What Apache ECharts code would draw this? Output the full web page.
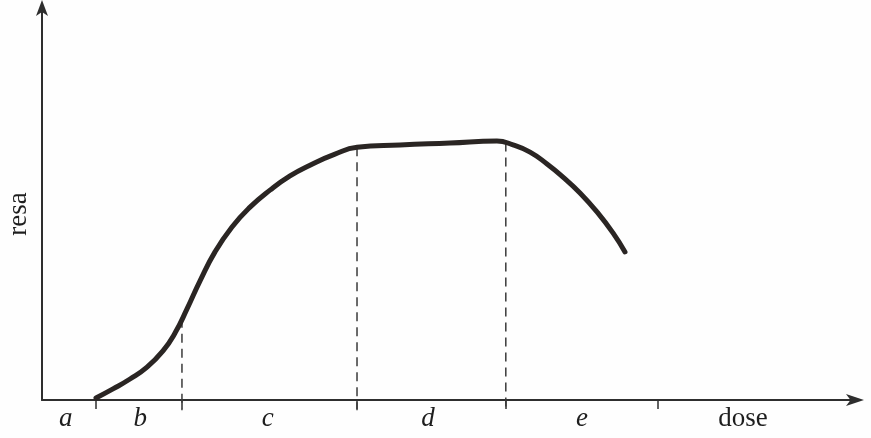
<!DOCTYPE html>
<html>
<head>
<meta charset="utf-8">
<script src="https://cdn.jsdelivr.net/npm/echarts@6/dist/echarts.min.js"></script>
<style>
  html, body { margin: 0; padding: 0; background: #fefefe; }
  #chart { width: 871px; height: 438px; }
</style>
</head>
<body>
<div id="chart"></div>
<script>
// Yield response to dose: points along the curve [dose, yield]
const curvePoints = [
  [6.60, 0.5], [8.68, 2.8], [10.76, 5.3], [12.84, 8.3], [14.79, 12.4],
  [16.26, 16.9], [17.73, 23.0], [19.32, 30.1], [21.15, 37.4], [23.23, 43.7],
  [25.43, 48.7], [27.87, 53.0], [30.32, 56.6], [32.76, 59.3], [35.82, 62.1],
  [38.51, 63.8], [43.77, 64.4], [49.88, 64.9], [55.62, 65.4], [57.58, 64.4],
  [59.66, 62.6], [61.74, 59.6], [63.69, 56.3], [65.77, 52.3], [67.85, 47.5],
  [69.80, 42.2], [71.27, 37.4]
];

// Zone boundaries on the dose axis (ticks)
const zoneBounds = [6.6, 17.11, 38.51, 56.7, 75.3];

// Dashed drop lines: [dose, yield at the curve]
const dropLines = [[17.11, 20.5], [38.51, 63.8], [56.7, 65.0]];

// Zone names and their positions along the dose axis
const zoneNames = ['a', 'b', 'c', 'd', 'e', 'dose'];
const zoneCenters = [2.9, 12.0, 27.6, 47.2, 66.0, 85.7];

const yLabel = 'resa';

const ink = '#2a2523';

const dropSeries = dropLines.map(function (p) {
  return {
    type: 'line',
    data: [[p[0], p[1]], [p[0], -2.6]],
    symbol: 'none',
    clip: false,
    silent: true,
    lineStyle: { color: '#3a3a3a', width: 1.5, type: [9, 6] },
    z: 1
  };
});

const chart = echarts.init(document.getElementById('chart'));
chart.setOption({
  backgroundColor: '#fefefe',
  animation: false,
  grid: { left: 42, right: 11, top: 4, bottom: 38, outerBoundsMode: 'none', containLabel: false },
  xAxis: {
    type: 'value',
    min: 0,
    max: 100,
    splitLine: { show: false },
    axisLine: {
      show: true,
      lineStyle: { color: '#2e2e2e', width: 2 },
      symbol: ['none', 'arrow'],
      symbolSize: [9, 18],
      symbolOffset: [0, 4]
    },
    axisTick: {
      show: true,
      customValues: zoneBounds,
      length: 9,
      lineStyle: { color: '#2e2e2e', width: 1.5 }
    },
    axisLabel: {
      customValues: zoneCenters,
      margin: 5,
      formatter: function (v) {
        let best = 0;
        for (let i = 0; i < zoneCenters.length; i++) {
          if (Math.abs(zoneCenters[i] - v) < Math.abs(zoneCenters[best] - v)) best = i;
        }
        const name = zoneNames[best];
        return name === 'dose' ? '{d|' + name + '}' : '{z|' + name + '}';
      },
      rich: {
        z: { fontFamily: 'Liberation Serif', fontStyle: 'italic', fontSize: 27, color: '#1e1e1e' },
        d: { fontFamily: 'Liberation Serif', fontSize: 27, color: '#1e1e1e' }
      }
    }
  },
  yAxis: {
    type: 'value',
    min: 0,
    max: 100,
    splitLine: { show: false },
    axisTick: { show: false },
    axisLabel: { show: false },
    axisLine: {
      show: true,
      lineStyle: { color: '#2e2e2e', width: 2 },
      symbol: ['none', 'arrow'],
      symbolSize: [9, 16],
      symbolOffset: [0, 4]
    },
    name: yLabel,
    nameLocation: 'middle',
    nameGap: 10,
    nameTextStyle: {
      fontFamily: 'Liberation Serif',
      fontSize: 27,
      color: '#1e1e1e',
      padding: [0, 24, 0, 0]
    }
  },
  series: [
    {
      type: 'line',
      data: curvePoints,
      smooth: 0.5,
      symbol: 'none',
      clip: false,
      lineStyle: { color: ink, width: 5, cap: 'round' },
      z: 3
    }
  ].concat(dropSeries)
});
</script>
</body>
</html>
